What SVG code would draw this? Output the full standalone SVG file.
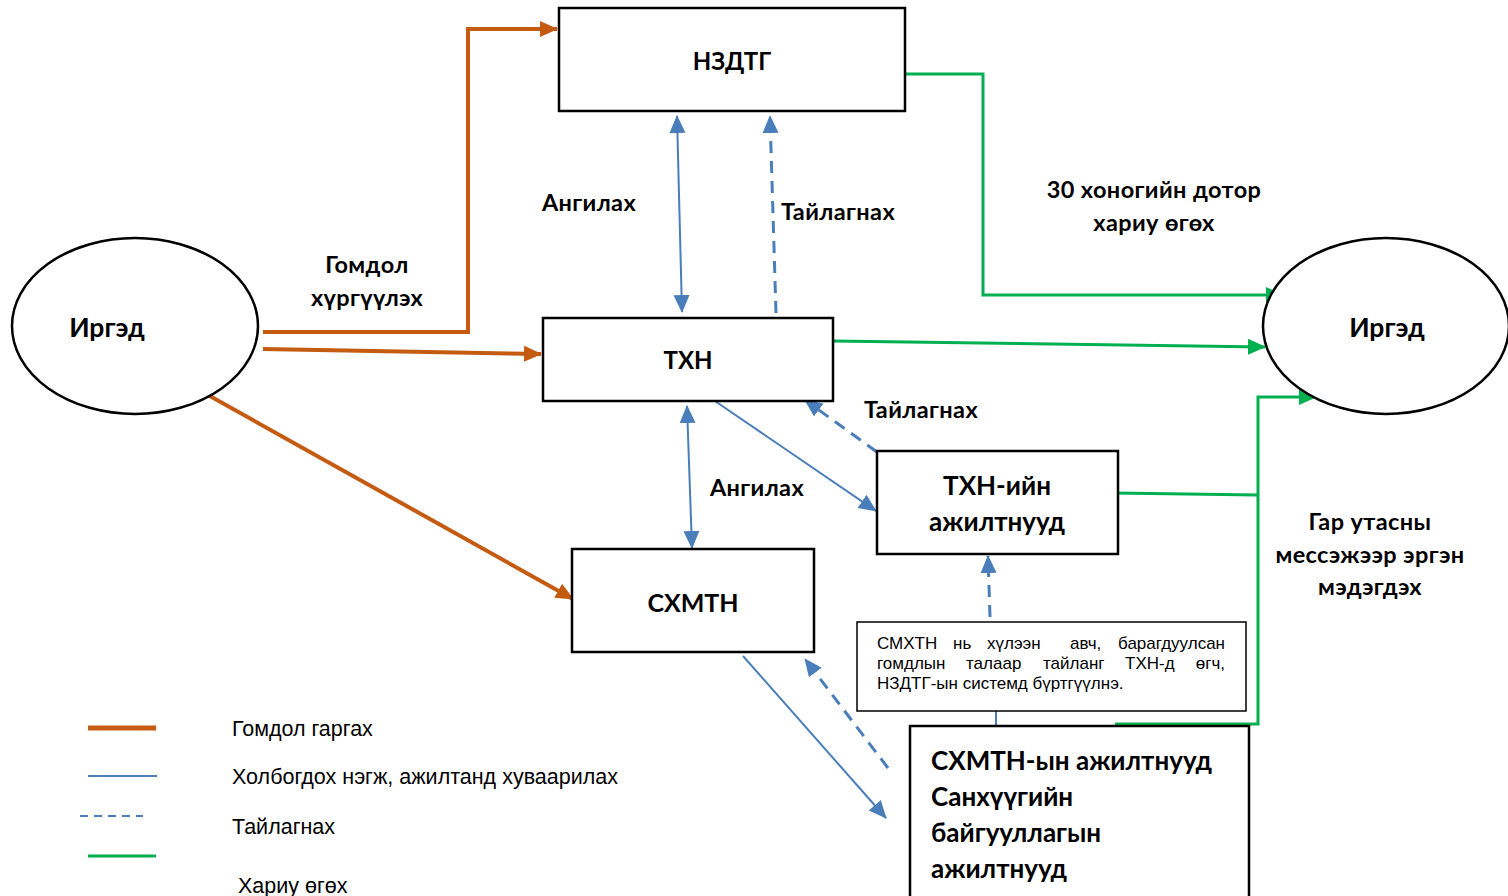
<svg xmlns="http://www.w3.org/2000/svg" width="1508" height="896" viewBox="0 0 1508 896">
<style>
.box{fill:#fff;stroke:#000;stroke-width:2.5}
.ell{fill:#fff;stroke:#000;stroke-width:2.5}
.lbl{font-family:Lato,"Open Sans","DejaVu Sans",sans-serif;font-weight:bold;font-size:23.5px;letter-spacing:0.4px;fill:#000;text-anchor:middle}
.nl{font-family:Lato,"Open Sans","DejaVu Sans",sans-serif;font-weight:bold;font-size:24px;fill:#000;text-anchor:middle}
.bl{font-family:Lato,"Open Sans","DejaVu Sans",sans-serif;font-weight:bold;font-size:26px;fill:#000}
.leg{font-family:"Liberation Sans",Arial,sans-serif;font-size:21.5px;fill:#000}
.note{font-family:"Liberation Sans",Arial,sans-serif;font-size:17px;fill:#000}
.or{fill:none;stroke:#C55A11;stroke-width:4}
.bu{fill:none;stroke:#4A7EBB;stroke-width:2}
.bd{fill:none;stroke:#4A7EBB;stroke-width:3;stroke-dasharray:12 8}
.gr{fill:none;stroke:#00B050;stroke-width:3}
</style>
<defs>
<marker id="ao" markerUnits="userSpaceOnUse" markerWidth="18" markerHeight="18" viewBox="0 0 18 18" refX="17" refY="9" orient="auto"><path d="M0,1 L18,9 L0,17 z" fill="#C55A11"/></marker>
<marker id="ab" markerUnits="userSpaceOnUse" markerWidth="18" markerHeight="18" viewBox="0 0 18 18" refX="17" refY="9" orient="auto-start-reverse"><path d="M0,1 L18,9 L0,17 z" fill="#4A7EBB"/></marker>
<marker id="ag" markerUnits="userSpaceOnUse" markerWidth="18" markerHeight="18" viewBox="0 0 18 18" refX="17" refY="9" orient="auto"><path d="M0,1 L18,9 L0,17 z" fill="#00B050"/></marker>
</defs>
<rect width="1508" height="896" fill="#fff"/>

<g id="connectors">
<polyline class="or" points="263,332 468,332 468,29 557,29" marker-end="url(#ao)"/>
<line class="or" x1="263" y1="349" x2="541" y2="354" marker-end="url(#ao)"/>
<line class="or" x1="208" y1="395" x2="573" y2="599" marker-end="url(#ao)"/>

<line class="bu" x1="677" y1="116" x2="682" y2="312" marker-start="url(#ab)" marker-end="url(#ab)"/>
<line class="bd" x1="776" y1="313" x2="770" y2="116" marker-end="url(#ab)"/>
<line class="bu" x1="687" y1="406" x2="692" y2="548" marker-start="url(#ab)" marker-end="url(#ab)"/>
<line class="bu" x1="712" y1="399" x2="876" y2="511" marker-end="url(#ab)"/>
<line class="bd" x1="877" y1="452" x2="805" y2="400" marker-end="url(#ab)"/>
<line class="bd" x1="990" y1="617" x2="988" y2="556" marker-end="url(#ab)"/>
<line class="bu" x1="996" y1="711" x2="996" y2="726"/>
<line class="bu" x1="743" y1="656" x2="886" y2="818" marker-end="url(#ab)"/>
<line class="bd" x1="888" y1="768" x2="805" y2="659" marker-end="url(#ab)"/>

<polyline class="gr" points="902,74 983,74 983,295 1283,295" marker-end="url(#ag)"/>
<line class="gr" x1="833" y1="341" x2="1265" y2="347" marker-end="url(#ag)"/>
<polyline class="gr" points="1114,493 1258,495"/>
<polyline class="gr" points="1115,724 1258,724 1258,397 1316,397" marker-end="url(#ag)"/>
</g>

<g id="n-irged-left">
<ellipse class="ell" cx="135" cy="326" rx="123" ry="88"/>
<text class="nl" x="107" y="337" style="font-size:26.5px">Иргэд</text>
</g>
<g id="n-irged-right">
<ellipse class="ell" cx="1386" cy="326" rx="123" ry="88"/>
<text class="nl" x="1387" y="337" style="font-size:26.5px">Иргэд</text>
</g>
<g id="n-nzdtg">
<rect class="box" x="559" y="8" width="346" height="103"/>
<text class="nl" x="732" y="70">НЗДТГ</text>
</g>
<g id="n-txn">
<rect class="box" x="543" y="318" width="290" height="83"/>
<text class="nl" x="688" y="369">ТХН</text>
</g>
<g id="n-sxmtn">
<rect class="box" x="572" y="549" width="242" height="103"/>
<text class="nl" x="693" y="612" style="font-size:25px">СХМТН</text>
</g>
<g id="n-txn-staff">
<rect class="box" x="877" y="451" width="241" height="103"/>
<text class="nl" x="997" y="495" style="font-size:26px">ТХН-ийн</text>
<text class="nl" x="997" y="531" style="font-size:26px">ажилтнууд</text>
</g>
<g id="n-note">
<rect x="857" y="622" width="389" height="89" fill="#fff" stroke="#000" stroke-width="1.5"/>
<text class="note" y="649"><tspan x="877">СМХТН</tspan><tspan x="953">нь</tspan><tspan x="987">хүлээн</tspan><tspan x="1070">авч,</tspan><tspan x="1225" text-anchor="end">барагдуулсан</tspan></text>
<text class="note" y="669"><tspan x="877">гомдлын</tspan><tspan x="966">талаар</tspan><tspan x="1043">тайланг</tspan><tspan x="1125">ТХН-д</tspan><tspan x="1225" text-anchor="end">өгч,</tspan></text>
<text class="note" x="877" y="689">НЗДТГ-ын системд бүртгүүлнэ.</text>
</g>
<g id="n-sxmtn-staff">
<rect class="box" x="910" y="726" width="339" height="180"/>
<text class="bl" x="931" y="770">СХМТН-ын ажилтнууд</text>
<text class="bl" x="931" y="806">Санхүүгийн</text>
<text class="bl" x="931" y="842">байгууллагын</text>
<text class="bl" x="931" y="878">ажилтнууд</text>
</g>

<g id="labels">
<text class="lbl" x="589" y="211">Ангилах</text>
<text class="lbl" x="838" y="220">Тайлагнах</text>
<text class="lbl" x="367" y="273">Гомдол</text>
<text class="lbl" x="367" y="306">хүргүүлэх</text>
<text class="lbl" x="1154" y="198">30 хоногийн дотор</text>
<text class="lbl" x="1154" y="231">хариу өгөх</text>
<text class="lbl" x="921" y="418">Тайлагнах</text>
<text class="lbl" x="757" y="496">Ангилах</text>
<text class="lbl" x="1370" y="530">Гар утасны</text>
<text class="lbl" x="1370" y="563">мессэжээр эргэн</text>
<text class="lbl" x="1370" y="595">мэдэгдэх</text>
</g>

<g id="legend">
<line x1="88" y1="728" x2="156" y2="728" stroke="#C55A11" stroke-width="5"/>
<line x1="88" y1="776" x2="157" y2="776" stroke="#4A7EBB" stroke-width="2"/>
<line x1="80" y1="816" x2="143" y2="816" stroke="#4A7EBB" stroke-width="2" stroke-dasharray="8 6"/>
<line x1="88" y1="856" x2="156" y2="856" stroke="#00B050" stroke-width="3"/>
<text class="leg" x="232" y="736">Гомдол гаргах</text>
<text class="leg" x="232" y="784">Холбогдох нэгж, ажилтанд хуваарилах</text>
<text class="leg" x="232" y="834">Тайлагнах</text>
<text class="leg" x="238" y="893">Хариу өгөх</text>
</g>
</svg>
